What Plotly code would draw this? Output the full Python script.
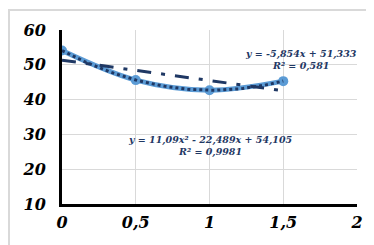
import numpy as np
import plotly.graph_objects as go

x_vals = [0, 0.5, 1, 1.5]
y_vals = [54.1, 45.6, 42.7, 45.3]

lin_coef = [-5.854, 51.333]
quad_coef = [11.09, -22.489, 54.105]

x_ticks = [0, 0.5, 1, 1.5, 2]
x_ticktext = ["0", "0,5", "1", "1,5", "2"]
y_ticks = [10, 20, 30, 40, 50, 60]
y_ticktext = ["10", "20", "30", "40", "50", "60"]

lin_label = "y = -5,854x + 51,333<br>R² = 0,581"
quad_label = "y = 11,09x² - 22,489x + 54,105<br>R² = 0,9981"

navy = "#1F3864"
blue = "#5B9BD5"
serif = "DejaVu Serif"


def bi(s):
    return "<b><i>" + s + "</i></b>"


xs = np.linspace(0, 1.5, 61)

fig = go.Figure()
fig.add_trace(go.Scatter(x=x_vals, y=y_vals, mode="lines+markers",
                         line=dict(color=blue, width=5, shape="spline"),
                         marker=dict(color=blue, size=10), showlegend=False))
fig.add_trace(go.Scatter(x=xs, y=np.polyval(quad_coef, xs), mode="lines",
                         line=dict(color=navy, width=3, dash="dot"), showlegend=False))
fig.add_trace(go.Scatter(x=xs, y=np.polyval(lin_coef, xs), mode="lines",
                         line=dict(color=navy, width=3, dash="14px,10px,4px,10px"), showlegend=False))

font_tick = dict(family=serif, size=16, color="black")
fig.update_xaxes(range=[0, 2], tickvals=x_ticks, ticktext=[bi(t) for t in x_ticktext],
                 showgrid=True, gridcolor="#D9D9D9", gridwidth=1,
                 showline=True, linecolor="black", linewidth=3, zeroline=False,
                 tickfont=font_tick, ticks="", ticklabelstandoff=2)
fig.update_yaxes(range=[10, 60], tickvals=y_ticks, ticktext=[bi(t) for t in y_ticktext],
                 showgrid=True, gridcolor="#D9D9D9", gridwidth=1,
                 showline=True, linecolor="black", linewidth=3, zeroline=False,
                 tickfont=font_tick, ticks="", ticklabelstandoff=10)

ann_font = dict(family=serif, size=9.5, color=navy)
fig.add_annotation(x=1.62, y=51.5, text=bi(lin_label), showarrow=False,
                   font=ann_font, align="center")
fig.add_annotation(x=1.01, y=26.7, text=bi(quad_label), showarrow=False,
                   font=ann_font, align="center")

fig.add_shape(type="rect", xref="paper", yref="paper",
              x0=-53/295, x1=1 + 23/295, y0=-47/174, y1=1 + 20/174,
              line=dict(color="#D9D9D9", width=2))

fig.update_layout(width=374, height=245, margin=dict(l=54, r=25, t=22, b=49),
                  paper_bgcolor="white", plot_bgcolor="white")
fig.write_html("out.html")
